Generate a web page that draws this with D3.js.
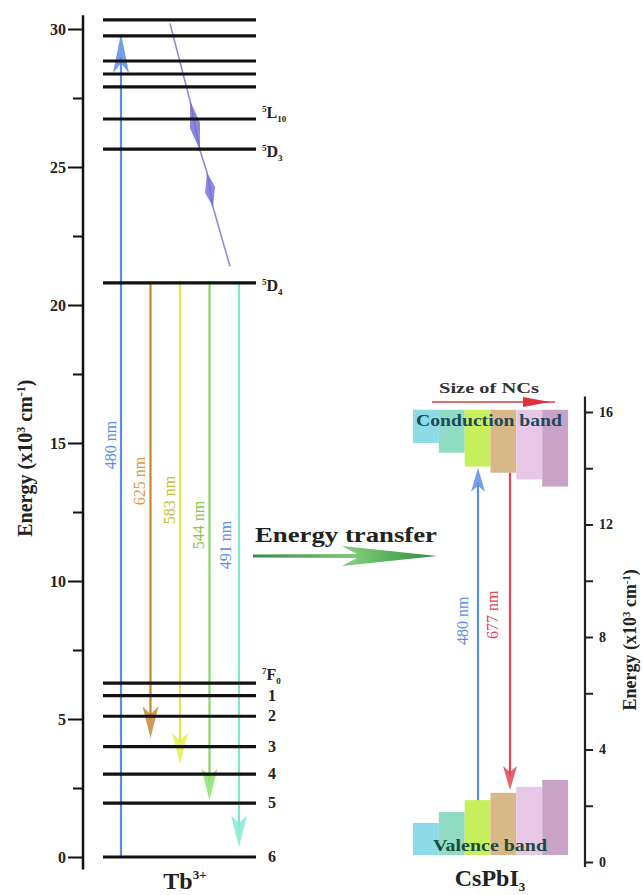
<!DOCTYPE html>
<html>
<head>
<meta charset="utf-8">
<script src="https://cdn.jsdelivr.net/npm/d3@7"></script>
<style>
  body { margin: 0; background: #fff; }
  svg { display: block; }
</style>
</head>
<body>
<script>
var W = 643, H = 895,
    serif = "'Liberation Serif', 'Times New Roman', serif";

// Tb3+ energy levels (x10^3 cm^-1)
var tbLevels = [0, 1.95, 3.0, 4.0, 5.1, 5.85, 6.3, 20.8, 25.65, 26.74, 27.9, 28.37, 28.84, 29.75, 30.33];

// level labels
var tbLabelE = [0, 1.95, 3.0, 4.0, 5.1, 5.85, 6.6, 20.7, 25.55, 26.95];
var tbLabelSup = ["", "", "", "", "", "", "7", "5", "5", "5"];
var tbLabelMain = ["6", "5", "4", "3", "2", "1", "F", "D", "D", "L"];
var tbLabelSub = ["", "", "", "", "", "", "0", "4", "3", "10"];

// transitions in Tb3+
var tbTrans = ["480 nm", "625 nm", "583 nm", "544 nm", "491 nm"];
var tbFrom = [0, 20.8, 20.8, 20.8, 20.8];
var tbTo = [29.85, 4.3, 3.35, 2.05, 0.35];
var tbLabelAt = [14.93, 13.62, 12.93, 12.03, 11.3];
var tbLineColor = ["#5b8ee6", "#c08a2c", "#e4e44a", "#86d866", "#7ee6cc"];
var tbHeadColor = ["#5b8ee6", "#c8883a", "#e8ec50", "#8ee070", "#86e8d0"];
var tbTextColor = ["#5b8ee6", "#d89a44", "#c4c03c", "#8cc844", "#5b8ee6"];

// relaxation bolt (fraction across level, energy)
var boltF = [0.438, 0.569, 0.634, 0.680, 0.719, 0.830];
var boltE = [30.2, 27.4, 25.6, 24.8, 23.55, 21.4];

// CsPbI3 bands for six NC sizes
var ncSizes = ["s1", "s2", "s3", "s4", "s5", "s6"];
var cbTop = 16.08;
var cbBottom = [14.9, 14.55, 14.06, 13.84, 13.6, 13.35];
var vbTop = [1.39, 1.78, 2.2, 2.46, 2.67, 2.92];
var vbBottom = 0.25;
var ncColors = ["#8cdce8", "#90dcc2", "#c8f05c", "#d8b888", "#e6c8e6", "#c9a2c9"];

// CsPbI3 transitions
var csTrans = ["480 nm", "677 nm"];
var csFrom = [2.2, 13.84];
var csTo = [14.02, 2.56];
var csLabelAt = [8.58, 8.79];
var csColor = ["#5b8ee6", "#e04456"];

var leftTicks = [0, 5, 10, 15, 20, 25, 30];
var rightTicks = [0, 4, 8, 12, 16];

var svg = d3.select("body").append("svg")
    .attr("width", W)
    .attr("height", H)
    .style("font-family", serif);

svg.append("rect").attr("width", W).attr("height", H).attr("fill", "#fff");

var defs = svg.append("defs");
var grad = defs.append("linearGradient").attr("id", "etGrad")
    .attr("x1", "0%").attr("x2", "100%").attr("y1", "0%").attr("y2", "0%");
grad.append("stop").attr("offset", "0%").attr("stop-color", "#3a8a48");
grad.append("stop").attr("offset", "55%").attr("stop-color", "#7ccc78");
grad.append("stop").attr("offset", "100%").attr("stop-color", "#2f8a3c");

var yL = d3.scaleLinear().domain([0, 30]).range([857, 29]);
var yR = d3.scaleLinear().domain([0, 16]).range([862, 412]);
var xLev = d3.scaleLinear().domain([0, 1]).range([103, 256]);
var xTb = d3.scalePoint().domain(tbTrans).range([121, 239]);
var xNC = d3.scaleBand().domain(ncSizes).range([413, 568]);
var xCs = d3.scalePoint().domain(csTrans).range([478, 510]);

function arrow(g, x, e1, e2, y, color, headColor, len, wid) {
    var y1 = y(e1), y2 = y(e2), dir = y2 < y1 ? 1 : -1;
    g.append("line")
        .attr("x1", x).attr("x2", x)
        .attr("y1", y1).attr("y2", y2 + dir * len * 0.6)
        .attr("stroke", color).attr("stroke-width", 2.2);
    g.append("path")
        .attr("d", "M" + x + "," + y2 + "L" + (x - wid / 2) + "," + (y2 + dir * len) +
            "L" + x + "," + (y2 + dir * len * 0.75) + "L" + (x + wid / 2) + "," + (y2 + dir * len) + "Z")
        .attr("fill", headColor).attr("opacity", 0.85);
}

function energyLabel(t) {
    var s = +t.attr("font-size");
    t.text("Energy (x10");
    t.append("tspan").attr("font-size", s * 0.6).attr("dy", -s * 0.35).text("3");
    t.append("tspan").attr("dy", s * 0.35).text(" cm");
    t.append("tspan").attr("font-size", s * 0.6).attr("dy", -s * 0.35).text("-1");
    t.append("tspan").attr("dy", s * 0.35).text(")");
}

// ---------- left panel: Tb3+ ----------
var left = svg.append("g");

left.append("line")
    .attr("x1", 83).attr("x2", 83)
    .attr("y1", yL(-0.45)).attr("y2", yL(30.5))
    .attr("stroke", "#111").attr("stroke-width", 2.5);

var axL = left.append("g").attr("transform", "translate(83,0)")
    .call(d3.axisLeft(yL).tickValues(leftTicks).tickSize(15).tickPadding(2));
axL.select(".domain").remove();
axL.selectAll(".tick line").attr("stroke", "#111").attr("stroke-width", 2);
axL.selectAll(".tick text")
    .attr("font-family", serif).attr("font-size", 16).attr("font-weight", "bold").attr("fill", "#222");

var axLm = left.append("g").attr("transform", "translate(83,0)")
    .call(d3.axisLeft(yL).tickValues(d3.range(2.5, 30, 5)).tickSize(10).tickFormat(""));
axLm.select(".domain").remove();
axLm.selectAll(".tick line").attr("stroke", "#111").attr("stroke-width", 2);

left.append("text")
    .attr("transform", "translate(32," + yL(14.45) + ") rotate(-90)")
    .attr("text-anchor", "middle")
    .attr("font-size", 20).attr("font-weight", "bold").attr("fill", "#222")
    .call(energyLabel);

// transitions behind the levels
var arrG = left.append("g");
tbTrans.forEach(function (d, i) {
    arrow(arrG, xTb(d), tbFrom[i], tbTo[i], yL, tbLineColor[i], tbHeadColor[i], i === 0 ? 40 : 32, 16);
    arrG.append("text")
        .attr("transform", "translate(" + (xTb(d) - (i === 4 ? 14 : 11)) + "," + yL(tbLabelAt[i]) + ") rotate(-90)")
        .attr("text-anchor", "middle").attr("dominant-baseline", "central")
        .attr("font-size", 16).attr("fill", tbTextColor[i])
        .text(d);
});

// relaxation bolt
var boltPts = boltF.map(function (f, i) { return [xLev(f), yL(boltE[i])]; });
left.append("path")
    .attr("d", d3.line()(boltPts))
    .attr("fill", "none").attr("stroke", "#7a78d8").attr("stroke-width", 1.6).attr("opacity", 0.85);
[[1, 2], [3, 4]].forEach(function (p) {
    var a = boltPts[p[0]], b = boltPts[p[1]],
        mx = (a[0] + b[0]) / 2, my = (a[1] + b[1]) / 2;
    left.append("path")
        .attr("d", "M" + a[0] + "," + a[1] + "L" + (mx - 5) + "," + (my + 3) + "L" + b[0] + "," + b[1] + "L" + (mx + 5) + "," + (my - 3) + "Z")
        .attr("fill", "#6e6cd6").attr("opacity", 0.8);
});

// levels
left.selectAll(".lev").data(tbLevels).enter().append("line")
    .attr("class", "lev")
    .attr("x1", xLev(0)).attr("x2", xLev(1))
    .attr("y1", function (d) { return yL(d); }).attr("y2", function (d) { return yL(d); })
    .attr("stroke", "#111").attr("stroke-width", 3.2);

// level labels
tbLabelE.forEach(function (e, i) {
    var t = left.append("text")
        .attr("x", xLev(1) + (tbLabelSup[i] ? 6 : 12)).attr("y", yL(e) + 5)
        .attr("font-size", 16).attr("font-weight", "bold").attr("fill", "#222");
    if (tbLabelSup[i]) t.append("tspan").attr("font-size", 9).attr("dy", -6).text(tbLabelSup[i]);
    t.append("tspan").attr("dy", tbLabelSup[i] ? 6 : 0).text(tbLabelMain[i]);
    if (tbLabelSub[i]) t.append("tspan").attr("font-size", 9).attr("dy", 4).text(tbLabelSub[i]);
});

left.append("text")
    .attr("x", 185).attr("y", 889)
    .attr("text-anchor", "middle")
    .attr("font-size", 24).attr("font-weight", "bold").attr("fill", "#222")
    .text("Tb")
    .append("tspan").attr("font-size", 13).attr("dy", -10).text("3+");

// ---------- energy transfer ----------
svg.append("text")
    .attr("x", 255).attr("y", 542)
    .attr("font-size", 21).attr("font-weight", "bold").attr("fill", "#222")
    .attr("textLength", 182).attr("lengthAdjust", "spacingAndGlyphs")
    .text("Energy transfer");
var ex0 = 253, ex1 = 437, ey = 556;
svg.append("path")
    .attr("d", "M" + ex0 + "," + (ey - 1.5) + "L" + (ex1 - 80) + "," + (ey - 2) +
        "L" + (ex1 - 95) + "," + (ey - 10) + "L" + ex1 + "," + ey +
        "L" + (ex1 - 95) + "," + (ey + 10) + "L" + (ex1 - 80) + "," + (ey + 2) +
        "L" + ex0 + "," + (ey + 1.5) + "Z")
    .attr("fill", "url(#etGrad)");

// ---------- right panel: CsPbI3 ----------
var right = svg.append("g");

right.selectAll(".cb").data(ncSizes).enter().append("rect")
    .attr("class", "cb")
    .attr("x", function (d) { return xNC(d); })
    .attr("width", xNC.bandwidth())
    .attr("y", yR(cbTop))
    .attr("height", function (d, i) { return yR(cbBottom[i]) - yR(cbTop); })
    .attr("fill", function (d, i) { return ncColors[i]; });

right.selectAll(".vb").data(ncSizes).enter().append("rect")
    .attr("class", "vb")
    .attr("x", function (d) { return xNC(d); })
    .attr("width", xNC.bandwidth())
    .attr("y", function (d, i) { return yR(vbTop[i]); })
    .attr("height", function (d, i) { return yR(vbBottom) - yR(vbTop[i]); })
    .attr("fill", function (d, i) { return ncColors[i]; });

right.append("text")
    .attr("x", 489).attr("y", yR(15.7))
    .attr("text-anchor", "middle").attr("dominant-baseline", "central")
    .attr("font-size", 16).attr("font-weight", "bold").attr("fill", "#1c4a5c")
    .attr("textLength", 146).attr("lengthAdjust", "spacingAndGlyphs")
    .text("Conduction band");

right.append("text")
    .attr("x", 490).attr("y", yR(0.6))
    .attr("text-anchor", "middle").attr("dominant-baseline", "central")
    .attr("font-size", 16).attr("font-weight", "bold").attr("fill", "#1c4a3c")
    .attr("textLength", 114).attr("lengthAdjust", "spacingAndGlyphs")
    .text("Valence band");

// size arrow
right.append("text")
    .attr("x", 489).attr("y", 393)
    .attr("text-anchor", "middle")
    .attr("font-size", 15).attr("font-weight", "bold").attr("fill", "#333")
    .attr("textLength", 100).attr("lengthAdjust", "spacingAndGlyphs")
    .text("Size of NCs");
right.append("line")
    .attr("x1", 432).attr("x2", 555).attr("y1", 402).attr("y2", 402)
    .attr("stroke", "#e07070").attr("stroke-width", 2);
right.append("path")
    .attr("d", "M523,397L550,402L523,407Z")
    .attr("fill", "#e03040");

csTrans.forEach(function (d, i) {
    arrow(right, xCs(d), csFrom[i], csTo[i], yR, csColor[i], csColor[i], 24, 14);
    right.append("text")
        .attr("transform", "translate(" + (xCs(d) - (i === 0 ? 16 : 18)) + "," + yR(csLabelAt[i]) + ") rotate(-90)")
        .attr("text-anchor", "middle").attr("dominant-baseline", "central")
        .attr("font-size", 16).attr("fill", csColor[i])
        .text(d);
});

right.append("line")
    .attr("x1", 585).attr("x2", 585)
    .attr("y1", yR(-0.18)).attr("y2", yR(16.55))
    .attr("stroke", "#222").attr("stroke-width", 2.2);

var axR = right.append("g").attr("transform", "translate(585,0)")
    .call(d3.axisRight(yR).tickValues(rightTicks).tickSize(8).tickPadding(6));
axR.select(".domain").remove();
axR.selectAll(".tick line").attr("stroke", "#222").attr("stroke-width", 2);
axR.selectAll(".tick text")
    .attr("font-family", serif).attr("font-size", 14).attr("font-weight", "bold").attr("fill", "#222");

var axRm = right.append("g").attr("transform", "translate(585,0)")
    .call(d3.axisRight(yR).tickValues(d3.range(2, 16, 4)).tickSize(8).tickFormat(""));
axRm.select(".domain").remove();
axRm.selectAll(".tick line").attr("stroke", "#222").attr("stroke-width", 2);

right.append("text")
    .attr("transform", "translate(636," + yR(7.9) + ") rotate(-90)")
    .attr("text-anchor", "middle")
    .attr("font-size", 18).attr("font-weight", "bold").attr("fill", "#222")
    .call(energyLabel);

right.append("text")
    .attr("x", 490).attr("y", 886)
    .attr("text-anchor", "middle")
    .attr("font-size", 24).attr("font-weight", "bold").attr("fill", "#222")
    .text("CsPbI")
    .append("tspan").attr("font-size", 13).attr("dy", 5).text("3");
</script>
</body>
</html>
